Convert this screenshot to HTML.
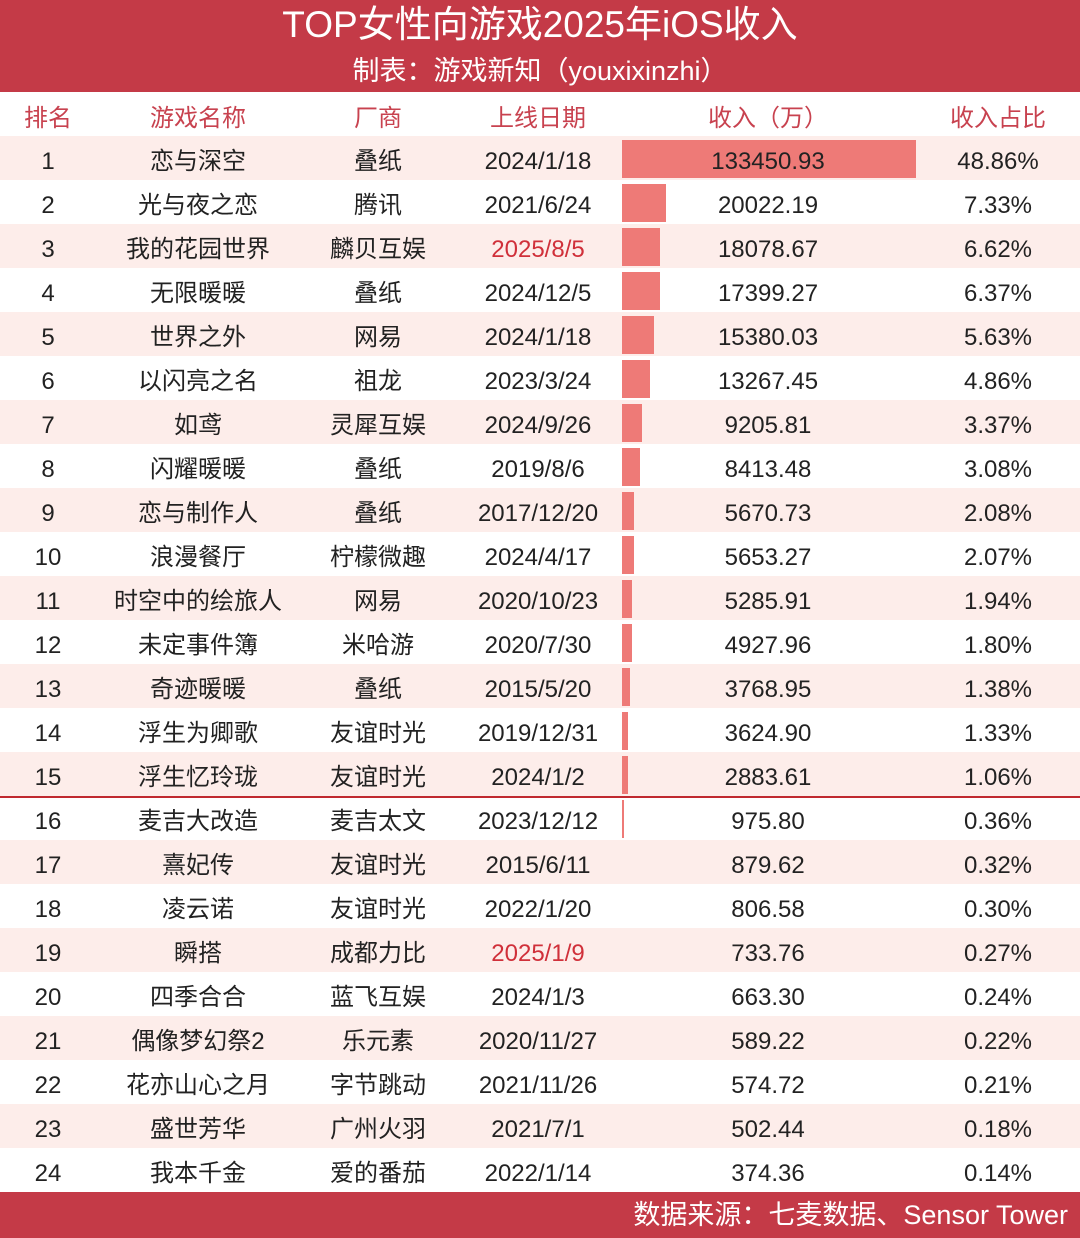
<!DOCTYPE html>
<html><head><meta charset="utf-8"><style>
*{margin:0;padding:0;box-sizing:border-box}
body{width:1080px;height:1238px;background:#fff;position:relative;overflow:hidden;font-family:"Liberation Sans","Noto Sans CJK SC",sans-serif;color:#222}
.hdr{position:absolute;left:0;top:0;width:1080px;height:92px;background:#c43a47;color:#fff;text-align:center}
.t1{position:absolute;top:3px;width:100%;font-size:37px;line-height:44px}
.t2{position:absolute;top:53px;width:100%;font-size:27px;line-height:36px}
.row{position:absolute;left:0;width:1080px;height:44px;font-size:24px;line-height:44px}
.row.s{background:#fdedea}
.c{position:absolute;top:4px;text-align:center;white-space:nowrap}
.c1{left:0;width:96px}.c2{left:98px;width:200px}.c3{left:298px;width:160px}.c4{left:458px;width:160px}.c5{left:618px;width:300px;z-index:2}.c6{left:918px;width:160px}
.bar{position:absolute;left:622px;top:4px;height:38px;background:#ee7a77}
.th .c{top:3px}
.th{color:#c8424f;font-size:24px}
.red{color:#d0303a}
.line{position:absolute;left:0;top:796px;width:1080px;height:2px;background:#c0292f}
.ftr{position:absolute;left:0;top:1192px;width:1080px;height:46px;background:#c43a47;color:#fff;font-size:27px;line-height:46px;text-align:right;padding-right:12px}
</style></head><body>
<div class="hdr"><div class="t1">TOP女性向游戏2025年iOS收入</div><div class="t2">制表：游戏新知（youxixinzhi）</div></div>
<div class="row th" style="top:94px"><div class="c c1">排名</div><div class="c c2">游戏名称</div><div class="c c3">厂商</div><div class="c c4">上线日期</div><div class="c c5">收入（万）</div><div class="c c6">收入占比</div></div>

<div class="row s" style="top:136px"><div class="bar" style="width:294px"></div><div class="c c1">1</div><div class="c c2">恋与深空</div><div class="c c3">叠纸</div><div class="c c4">2024/1/18</div><div class="c c5">133450.93</div><div class="c c6">48.86%</div></div>
<div class="row" style="top:180px"><div class="bar" style="width:44px"></div><div class="c c1">2</div><div class="c c2">光与夜之恋</div><div class="c c3">腾讯</div><div class="c c4">2021/6/24</div><div class="c c5">20022.19</div><div class="c c6">7.33%</div></div>
<div class="row s" style="top:224px"><div class="bar" style="width:38px"></div><div class="c c1">3</div><div class="c c2">我的花园世界</div><div class="c c3">麟贝互娱</div><div class="c c4 red">2025/8/5</div><div class="c c5">18078.67</div><div class="c c6">6.62%</div></div>
<div class="row" style="top:268px"><div class="bar" style="width:38px"></div><div class="c c1">4</div><div class="c c2">无限暖暖</div><div class="c c3">叠纸</div><div class="c c4">2024/12/5</div><div class="c c5">17399.27</div><div class="c c6">6.37%</div></div>
<div class="row s" style="top:312px"><div class="bar" style="width:32px"></div><div class="c c1">5</div><div class="c c2">世界之外</div><div class="c c3">网易</div><div class="c c4">2024/1/18</div><div class="c c5">15380.03</div><div class="c c6">5.63%</div></div>
<div class="row" style="top:356px"><div class="bar" style="width:28px"></div><div class="c c1">6</div><div class="c c2">以闪亮之名</div><div class="c c3">祖龙</div><div class="c c4">2023/3/24</div><div class="c c5">13267.45</div><div class="c c6">4.86%</div></div>
<div class="row s" style="top:400px"><div class="bar" style="width:20px"></div><div class="c c1">7</div><div class="c c2">如鸢</div><div class="c c3">灵犀互娱</div><div class="c c4">2024/9/26</div><div class="c c5">9205.81</div><div class="c c6">3.37%</div></div>
<div class="row" style="top:444px"><div class="bar" style="width:18px"></div><div class="c c1">8</div><div class="c c2">闪耀暖暖</div><div class="c c3">叠纸</div><div class="c c4">2019/8/6</div><div class="c c5">8413.48</div><div class="c c6">3.08%</div></div>
<div class="row s" style="top:488px"><div class="bar" style="width:12px"></div><div class="c c1">9</div><div class="c c2">恋与制作人</div><div class="c c3">叠纸</div><div class="c c4">2017/12/20</div><div class="c c5">5670.73</div><div class="c c6">2.08%</div></div>
<div class="row" style="top:532px"><div class="bar" style="width:12px"></div><div class="c c1">10</div><div class="c c2">浪漫餐厅</div><div class="c c3">柠檬微趣</div><div class="c c4">2024/4/17</div><div class="c c5">5653.27</div><div class="c c6">2.07%</div></div>
<div class="row s" style="top:576px"><div class="bar" style="width:10px"></div><div class="c c1">11</div><div class="c c2">时空中的绘旅人</div><div class="c c3">网易</div><div class="c c4">2020/10/23</div><div class="c c5">5285.91</div><div class="c c6">1.94%</div></div>
<div class="row" style="top:620px"><div class="bar" style="width:10px"></div><div class="c c1">12</div><div class="c c2">未定事件簿</div><div class="c c3">米哈游</div><div class="c c4">2020/7/30</div><div class="c c5">4927.96</div><div class="c c6">1.80%</div></div>
<div class="row s" style="top:664px"><div class="bar" style="width:8px"></div><div class="c c1">13</div><div class="c c2">奇迹暖暖</div><div class="c c3">叠纸</div><div class="c c4">2015/5/20</div><div class="c c5">3768.95</div><div class="c c6">1.38%</div></div>
<div class="row" style="top:708px"><div class="bar" style="width:6px"></div><div class="c c1">14</div><div class="c c2">浮生为卿歌</div><div class="c c3">友谊时光</div><div class="c c4">2019/12/31</div><div class="c c5">3624.90</div><div class="c c6">1.33%</div></div>
<div class="row s" style="top:752px"><div class="bar" style="width:6px"></div><div class="c c1">15</div><div class="c c2">浮生忆玲珑</div><div class="c c3">友谊时光</div><div class="c c4">2024/1/2</div><div class="c c5">2883.61</div><div class="c c6">1.06%</div></div>
<div class="row" style="top:796px"><div class="bar" style="width:2px"></div><div class="c c1">16</div><div class="c c2">麦吉大改造</div><div class="c c3">麦吉太文</div><div class="c c4">2023/12/12</div><div class="c c5">975.80</div><div class="c c6">0.36%</div></div>
<div class="row s" style="top:840px"><div class="c c1">17</div><div class="c c2">熹妃传</div><div class="c c3">友谊时光</div><div class="c c4">2015/6/11</div><div class="c c5">879.62</div><div class="c c6">0.32%</div></div>
<div class="row" style="top:884px"><div class="c c1">18</div><div class="c c2">凌云诺</div><div class="c c3">友谊时光</div><div class="c c4">2022/1/20</div><div class="c c5">806.58</div><div class="c c6">0.30%</div></div>
<div class="row s" style="top:928px"><div class="c c1">19</div><div class="c c2">瞬搭</div><div class="c c3">成都力比</div><div class="c c4 red">2025/1/9</div><div class="c c5">733.76</div><div class="c c6">0.27%</div></div>
<div class="row" style="top:972px"><div class="c c1">20</div><div class="c c2">四季合合</div><div class="c c3">蓝飞互娱</div><div class="c c4">2024/1/3</div><div class="c c5">663.30</div><div class="c c6">0.24%</div></div>
<div class="row s" style="top:1016px"><div class="c c1">21</div><div class="c c2">偶像梦幻祭2</div><div class="c c3">乐元素</div><div class="c c4">2020/11/27</div><div class="c c5">589.22</div><div class="c c6">0.22%</div></div>
<div class="row" style="top:1060px"><div class="c c1">22</div><div class="c c2">花亦山心之月</div><div class="c c3">字节跳动</div><div class="c c4">2021/11/26</div><div class="c c5">574.72</div><div class="c c6">0.21%</div></div>
<div class="row s" style="top:1104px"><div class="c c1">23</div><div class="c c2">盛世芳华</div><div class="c c3">广州火羽</div><div class="c c4">2021/7/1</div><div class="c c5">502.44</div><div class="c c6">0.18%</div></div>
<div class="row" style="top:1148px"><div class="c c1">24</div><div class="c c2">我本千金</div><div class="c c3">爱的番茄</div><div class="c c4">2022/1/14</div><div class="c c5">374.36</div><div class="c c6">0.14%</div></div>
<div class="line"></div>
<div class="ftr">数据来源：七麦数据、Sensor Tower</div>
</body></html>
